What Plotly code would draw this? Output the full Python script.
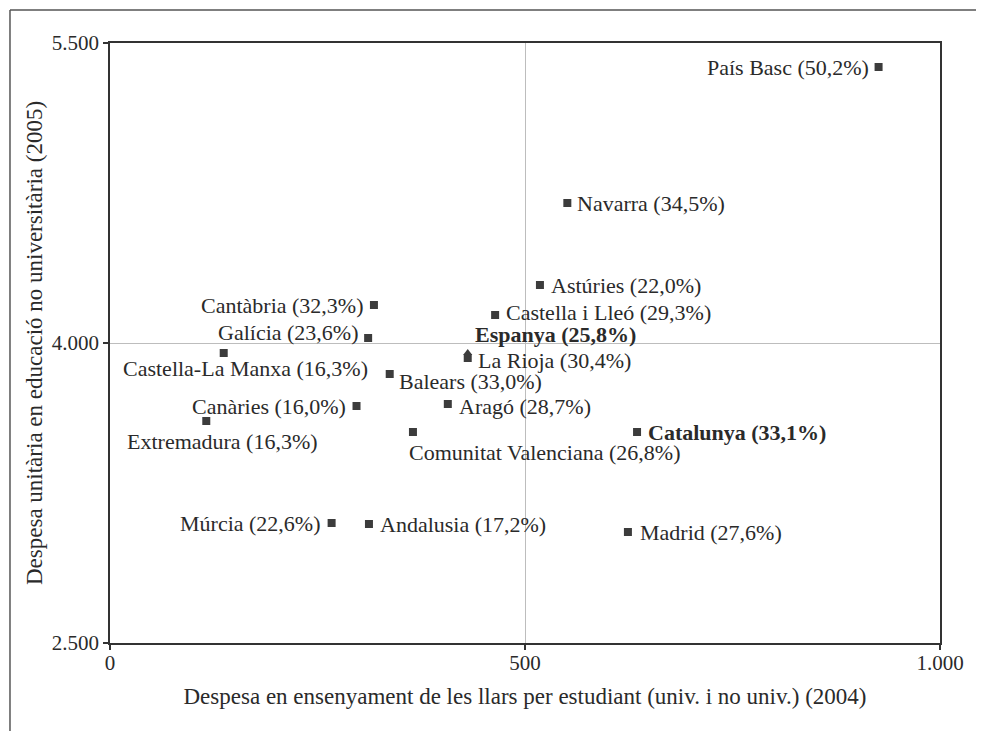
import plotly.graph_objects as go

# Despesa per comunitat autònoma
regions = ["País Basc", "Navarra", "Astúries", "Castella i Lleó", "Espanya", "La Rioja",
           "Cantàbria", "Galícia", "Castella-La Manxa", "Balears", "Canàries", "Extremadura",
           "Aragó", "Comunitat Valenciana", "Catalunya", "Múrcia", "Andalusia", "Madrid"]
llars = [926, 551, 518, 464, 431, 431,
         318, 311, 137, 337, 297, 116,
         407, 365, 635, 267, 312, 624]
unitaria = [5380, 4700, 4290, 4140, 3950, 3925,
            4190, 4025, 3950, 3845, 3685, 3610,
            3695, 3555, 3555, 3100, 3095, 3055]
pct = ["50,2", "34,5", "22,0", "29,3", "25,8", "30,4",
       "32,3", "23,6", "16,3", "33,0", "16,0", "16,3",
       "28,7", "26,8", "33,1", "22,6", "17,2", "27,6"]
bold = ["Espanya", "Catalunya"]

x_ticks = [0, 500, 1000]
x_ticktext = ["0", "500", "1.000"]
y_ticks = [2500, 4000, 5500]
y_ticktext = ["2.500", "4.000", "5.500"]

FONT = "Liberation Serif, DejaVu Serif, serif"
INK = "#2a2a2a"
FS = 22

# where each label sits relative to its marker: (xanchor, xshift, yshift)
place = {
    "País Basc": ("right", -9, 0),
    "Navarra": ("left", 9, 0),
    "Astúries": ("left", 10, 0),
    "Castella i Lleó": ("left", 10, 3),
    "Espanya": ("left", 6, 19),
    "La Rioja": ("left", 9, -2),
    "Cantàbria": ("right", -9, 0),
    "Galícia": ("right", -8, 6),
    "Castella-La Manxa": ("center", 22, -15),
    "Balears": ("left", 8, -7),
    "Canàries": ("right", -10, 0),
    "Extremadura": ("center", 16, -20),
    "Aragó": ("left", 10, -2),
    "Comunitat Valenciana": ("left", -5, -20),
    "Catalunya": ("left", 10, 0),
    "Múrcia": ("right", -10, 0),
    "Andalusia": ("left", 10, 0),
    "Madrid": ("left", 11, 0),
}

symbols = ["triangle-up" if r == "Espanya" else "square" for r in regions]

fig = go.Figure()
fig.add_trace(go.Scatter(
    x=llars, y=unitaria, mode="markers",
    marker=dict(symbol=symbols, size=8, color="#3c3c3c", line=dict(width=0)),
    hoverinfo="skip", showlegend=False,
))

for r, xv, yv, p in zip(regions, llars, unitaria, pct):
    txt = "%s (%s%%)" % (r, p)
    if r in bold:
        txt = "<b>" + txt + "</b>"
    xa, xs, ys = place[r]
    fig.add_annotation(x=xv, y=yv, text=txt, showarrow=False,
                       xanchor=xa, yanchor="middle", xshift=xs, yshift=ys, borderpad=0,
                       font=dict(family=FONT, size=FS, color=INK))

# outer frame (only top and left edges show in the page)
fig.add_shape(type="line", xref="paper", yref="paper", x0=-0.1205, x1=1.2, y0=1.055, y1=1.055,
              line=dict(color="#555", width=1.5))
fig.add_shape(type="line", xref="paper", yref="paper", x0=-0.1205, x1=-0.1205, y0=1.055, y1=-0.3,
              line=dict(color="#555", width=1.5))

axis_common = dict(
    showline=True, mirror=True, linecolor="#333", linewidth=1.5,
    ticks="outside", ticklen=5, tickcolor="#333", tickwidth=1.5,
    showgrid=True, gridcolor="#bdbdbd", gridwidth=1, zeroline=False,
    tickfont=dict(family=FONT, size=21, color=INK),
)

fig.update_xaxes(range=[0, 1000], tickvals=x_ticks, ticktext=x_ticktext, ticklabelstandoff=-5,
                 title=dict(text="Despesa en ensenyament de les llars per estudiant (univ. i no univ.) (2004)",
                            font=dict(family=FONT, size=23, color=INK), standoff=14),
                 **axis_common)
fig.update_yaxes(range=[2500, 5500], tickvals=y_ticks, ticktext=y_ticktext,
                 title=dict(text="Despesa unitària en educació no universitària (2005)",
                            font=dict(family=FONT, size=23, color=INK), standoff=3),
                 **axis_common)

# page body adds ~8px, so the figure is a bit smaller than the window
fig.update_layout(
    width=976, height=723,
    margin=dict(l=102, r=44, t=35, b=88),
    paper_bgcolor="white", plot_bgcolor="white",
    font=dict(family=FONT, color=INK),
    showlegend=False,
)

fig.write_html("out.html")
